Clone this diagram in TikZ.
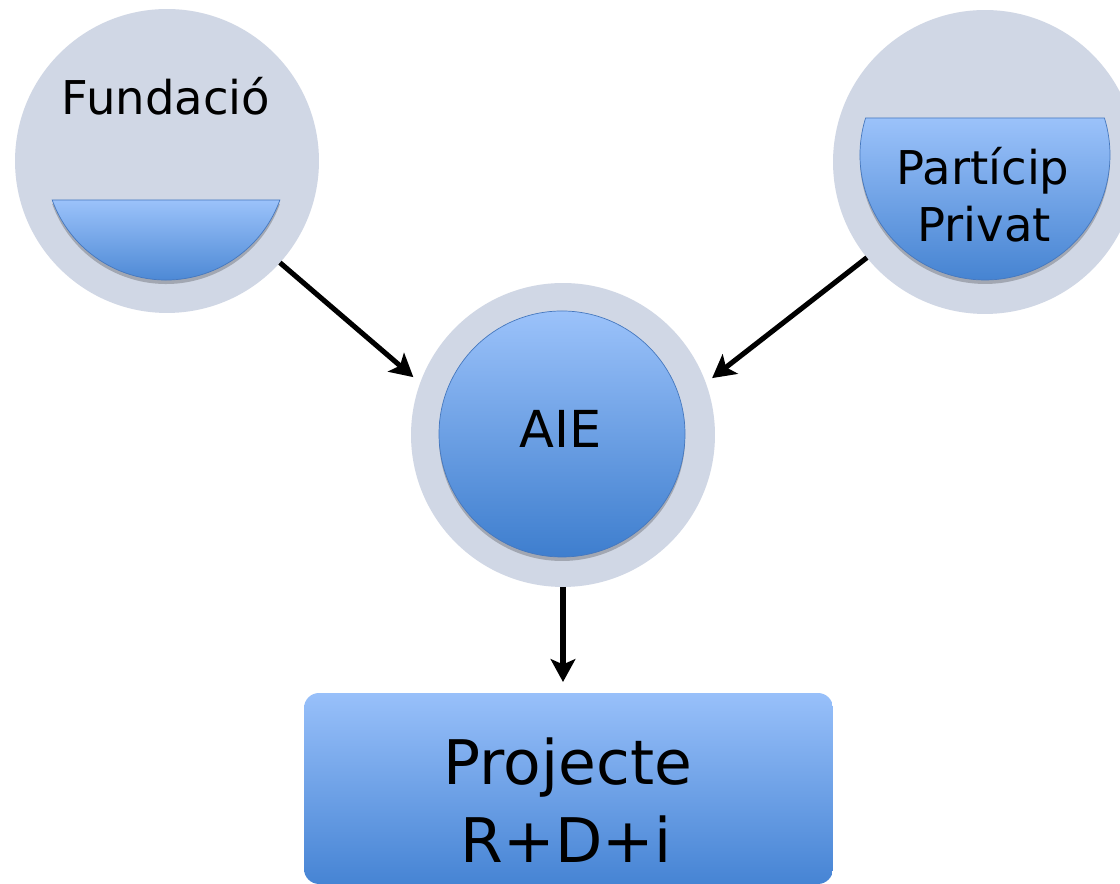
\documentclass[tikz,border=0pt]{standalone}
\usepackage{fontspec}
\setmainfont{DejaVu Sans}
\usetikzlibrary{arrows.meta}
\definecolor{ringgray}{RGB}{208,215,229}
\definecolor{bluetop}{RGB}{155,194,250}
\definecolor{bluebot}{RGB}{62,126,206}
\definecolor{boxtop}{RGB}{152,192,250}
\definecolor{boxbot}{RGB}{70,132,212}
\definecolor{blueedge}{RGB}{70,120,190}
\begin{document}
\begin{tikzpicture}[x=0.02cm,y=0.02cm,
  ring/.style={circle,fill=ringgray,minimum size=6.08cm,inner sep=0pt,outer sep=0pt},
  bluefill/.style={top color=bluetop,bottom color=bluebot,draw=blueedge,line width=0.4pt},
  shadowfill/.style={fill=black,opacity=0.22},
  conn/.style={line width=2.9pt,-{Stealth[length=13pt,width=14pt,inset=3pt]}},
  txt/.style={anchor=base,inner sep=0pt,font=\fontsize{26.5}{31}\selectfont},
  bigtxt/.style={anchor=base,inner sep=0pt,font=\fontsize{35}{40}\selectfont}]
\useasboundingbox (0,0) rectangle (1120,884);
\fill[white] (0,0) rectangle (1120,884);

% outer rings
\node[ring] (fund) at (167,723) {};
\node[ring] (part) at (985,722) {};
\node[ring] (aie) at (563,449) {};

% Fundacio bowl
\fill[shadowfill] (52.2,680) arc[start angle=199.8,end angle=340.2,radius=121] -- cycle;
\path[bluefill] (52.2,684) arc[start angle=199.8,end angle=340.2,radius=121] -- cycle;
\node[txt] (fundtxt) at (166,769) {Fundació};

% Particip bowl
\fill[shadowfill] (865.6,762) arc[start angle=162.8,end angle=377.2,radius=125] -- cycle;
\path[bluefill] (865.6,766) arc[start angle=162.8,end angle=377.2,radius=125] -- cycle;
\node[txt] (parttxt1) at (983,699) {Partícip};
\node[txt] (parttxt2) at (984,642) {Privat};

% AIE inner circle
\fill[shadowfill] (562,446) circle[radius=123];
\path[bluefill] (562,450) circle[radius=123];
\node[txt,font=\fontsize{29}{34}\selectfont] (aietxt) at (561,436) {AIE};

% project box
\node[top color=boxtop,bottom color=boxbot,rounded corners=0.3cm,inner sep=0pt,outer sep=0pt,
      minimum width=10.58cm,minimum height=3.82cm] (proj) at (568.5,95.5) {};
\node[bigtxt] (projtxt1) at (568,99) {Projecte};
\node[bigtxt] (projtxt2) at (566,21) {R+D+i};

% connectors
\draw[conn,shorten >=0.18cm] (fund.-42.8) -- (aie.160);
\draw[conn,shorten >=0.16cm] (part.-141.6) -- (aie.20);
\draw[conn,shorten >=0.22cm] (aie.south) -- (aie.south |- proj.north);
\end{tikzpicture}
\end{document}
